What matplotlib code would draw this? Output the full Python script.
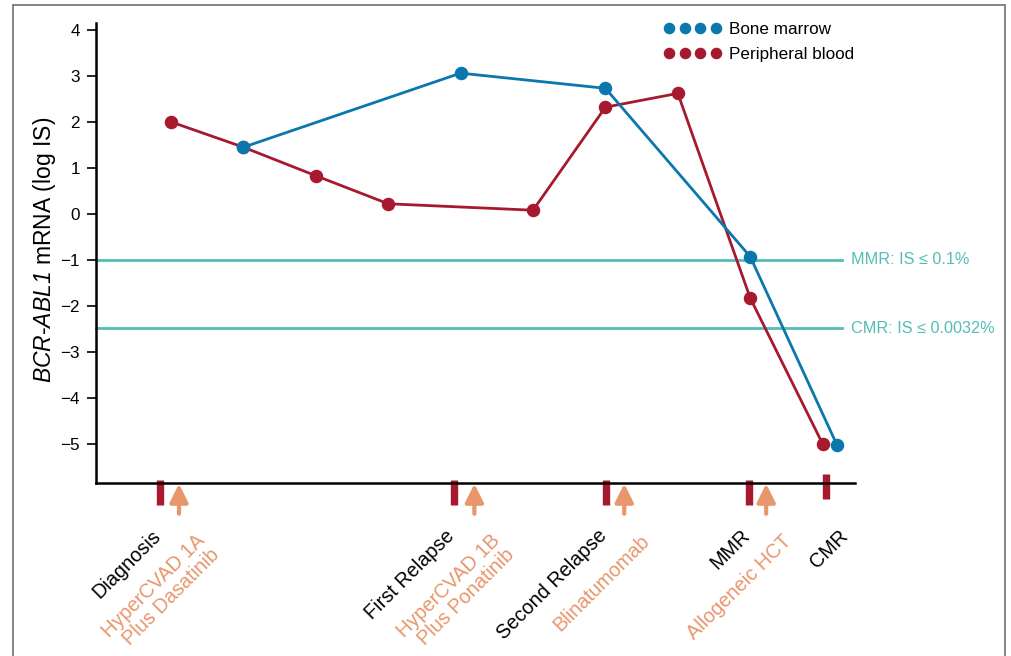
import matplotlib
matplotlib.use("Agg")
import matplotlib.pyplot as plt
from matplotlib.lines import Line2D
from matplotlib.patches import Rectangle

plt.rcParams['font.family'] = ['Liberation Sans', 'DejaVu Sans']
plt.rcParams['mathtext.fontset'] = 'custom'
plt.rcParams['mathtext.rm'] = 'Liberation Sans:italic'
plt.rcParams['mathtext.it'] = 'Liberation Sans:italic'

# data (x = sample time index, y = log IS)
blood_x = [0, 1, 2, 3, 5, 6, 7, 8, 9]
blood_y = [2.0, 1.45, 0.83, 0.22, 0.08, 2.32, 2.62, -1.83, -5.0]
marrow_x = [1, 4, 6, 8, 9.2]
marrow_y = [1.45, 3.06, 2.73, -0.93, -5.03]

# threshold lines
thr_y = [-1.0, -2.49]
thr_labels = ['MMR: IS ≤ 0.1%', 'CMR: IS ≤ 0.0032%']

# disease milestones (red bars) and treatments (orange arrows)
event_x = [-0.15, 3.91, 6.01, 7.98, 9.05]
event_labels = ['Diagnosis', 'First Relapse', 'Second Relapse', 'MMR', 'CMR']
treat_x = [0.11, 4.19, 6.26, 8.22]
treat_labels = ['HyperCVAD 1A\nPlus Dasatinib', 'HyperCVAD 1B\nPlus Ponatinib',
                'Blinatumomab', 'Allogeneic HCT']

RED = '#a6192e'
BLUE = '#0a78ad'
TEAL = '#55bdb6'
ORANGE = '#e8966c'

fig = plt.figure(figsize=(10.11, 6.56), dpi=100)
ax = fig.add_axes([96 / 1011, 173 / 656, 759 / 1011, 460 / 656])

# frame round the whole figure
fig.patches.append(Rectangle((12.5 / 1011, -0.1), 992.5 / 1011, 1.1 - 5.5 / 656,
                             transform=fig.transFigure, fill=False,
                             edgecolor='#7a7a7a', lw=1.3))

xmin, xmax = -1.036, 9.447
for y in thr_y:
    ax.plot([xmin, 9.27], [y, y], color=TEAL, lw=2, clip_on=False, zorder=1)
for y, lab in zip(thr_y, thr_labels):
    ax.text(9.39, y, lab, color=TEAL, fontsize=11.7, va='center', ha='left')

ax.plot(blood_x, blood_y, color=RED, lw=2, marker='o', ms=8.7, zorder=3,
        clip_on=False)
ax.plot(marrow_x, marrow_y, color=BLUE, lw=2, marker='o', ms=8.7, zorder=4,
        clip_on=False)

ax.set_xlim(xmin, xmax)
ax.set_ylim(-5.85, 4.15)
ax.set_xticks([])
ax.set_yticks(range(-5, 5))
ax.tick_params(axis='y', labelsize=12.3, length=6.5, width=1.2, pad=5)
for s in ['top', 'right']:
    ax.spines[s].set_visible(False)
for s in ['left', 'bottom']:
    ax.spines[s].set_linewidth(1.8)

ax.set_ylabel(r'$BCR$-$ABL1$ mRNA (log IS)', fontsize=16.5)
ax.yaxis.set_label_coords(-0.05, 0.507)

# milestone bars below the axis
px = 1 / 46.0
for x, lab in zip(event_x, event_labels):
    top = -5.78 if lab != 'CMR' else -5.65
    ax.plot([x, x], [top, top - 25 * px], color=RED, lw=5.3,
            solid_capstyle='butt', clip_on=False)
    off = 12 if lab == 'CMR' else -9
    ax.annotate(lab, xy=(x, 0), xycoords=('data', 'axes fraction'),
                xytext=(off, -43), textcoords='offset pixels',
                rotation=45, ha='right', va='top', rotation_mode='anchor',
                fontsize=14.3, color='black')

for x, lab in zip(treat_x, treat_labels):
    ax.annotate('', xy=(x, -5.78 - 4 * px), xytext=(x, -5.78 - 34 * px),
                xycoords='data',
                arrowprops=dict(arrowstyle='-|>,head_length=1.1,head_width=0.55',
                                color=ORANGE, lw=3, shrinkA=0, shrinkB=0),
                annotation_clip=False)
    ax.annotate(lab, xy=(x, 0), xycoords=('data', 'axes fraction'),
                xytext=(16, -48), textcoords='offset pixels',
                rotation=45, ha='right', va='top', rotation_mode='anchor',
                fontsize=14.3, color=ORANGE, multialignment='right',
                linespacing=1.1)

handles = [Line2D([], [], ls='none', marker='o', ms=7.3, color=BLUE),
           Line2D([], [], ls='none', marker='o', ms=7.3, color=RED)]
fig.legend(handles, ['Bone marrow', 'Peripheral blood'], numpoints=4,
           loc='upper left', bbox_to_anchor=(664 / 1011, 1 - 22 / 656),
           frameon=False, fontsize=12.3, handlelength=3.35, handletextpad=0.46,
           labelspacing=0.57, borderpad=0, borderaxespad=0)

fig.savefig('out.png', dpi=100)
